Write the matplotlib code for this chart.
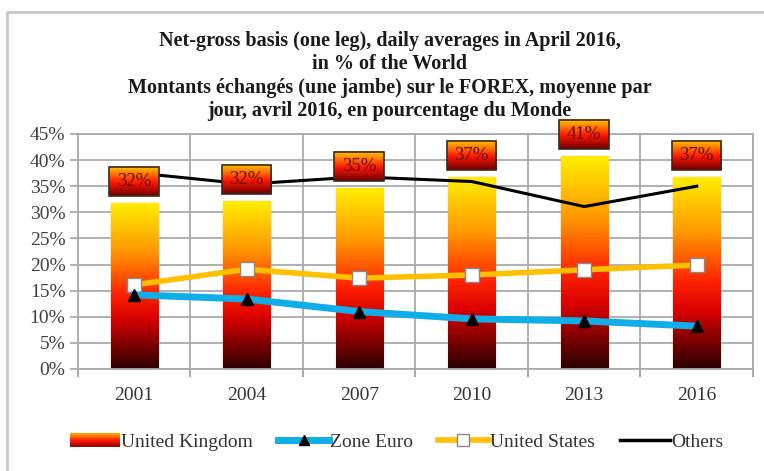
import numpy as np
import matplotlib
matplotlib.use("Agg")
import matplotlib.pyplot as plt
from matplotlib.colors import LinearSegmentedColormap
from matplotlib.patches import Rectangle
from matplotlib.lines import Line2D
from matplotlib.legend_handler import HandlerBase

# data (% of world FX turnover)
years = ["2001", "2004", "2007", "2010", "2013", "2016"]
uk = [31.8, 32.2, 34.7, 36.8, 40.8, 36.8]
uk_labels = ["32%", "32%", "35%", "37%", "41%", "37%"]
euro = [14.2, 13.4, 11.0, 9.6, 9.2, 8.2]
usa = [16.1, 19.1, 17.4, 18.0, 19.0, 19.9]
others = [37.6, 35.4, 36.8, 35.9, 31.1, 35.0]

title = ("Net-gross basis (one leg), daily averages in April 2016,\n"
         "in % of the World\n"
         "Montants échangés (une jambe) sur le FOREX, moyenne par\n"
         "jour, avril 2016, en pourcentage du Monde")

plt.rcParams['font.family'] = ['Liberation Serif', 'DejaVu Serif']

bar_cmap = LinearSegmentedColormap.from_list(
    "ukbar", [(0, "#2a0000"), (0.3, "#d80000"), (0.45, "#ff2200"),
              (0.7, "#ff9500"), (1, "#fff000")])
box_cmap = LinearSegmentedColormap.from_list(
    "ukbox", [(0, "#6a0000"), (0.45, "#ff1500"), (1, "#ffcc00")])
grad = np.linspace(0, 1, 256).reshape(-1, 1)

fig = plt.figure(figsize=(7.64, 4.71), dpi=100)
ax = fig.add_axes([0.102, 0.2166, 0.8836, 0.4989])

# outer frame of the chart
fig.patches.append(Rectangle((7 / 764, -0.1), 1.2, 1 - 12 / 471 + 0.1,
                             transform=fig.transFigure, fill=False,
                             edgecolor="#c8c8c8", linewidth=2, zorder=0))

x = np.arange(len(years))
bar_w = 0.42
bars = ax.bar(x, uk, width=bar_w, facecolor="none", edgecolor="#f0a070",
              linewidth=1, zorder=2)
for b in bars:
    x0, y0 = b.get_x(), b.get_y()
    im = ax.imshow(grad, cmap=bar_cmap, origin="lower", aspect="auto",
                   extent=(x0, x0 + b.get_width(), y0, y0 + b.get_height()),
                   zorder=2)
    im.set_clip_path(b)

# gradient label boxes above the bars
box_w = 0.44
for xi, v, lab in zip(x, uk, uk_labels):
    lo, hi = v + 1.3, v + 6.9
    ax.imshow(grad, cmap=box_cmap, origin="lower", aspect="auto",
              extent=(xi - box_w / 2, xi + box_w / 2, lo, hi),
              zorder=5, clip_on=False)
    ax.add_patch(Rectangle((xi - box_w / 2, lo), box_w, hi - lo, fill=False,
                           edgecolor="#3a2a20", linewidth=1.2, zorder=6,
                           clip_on=False))
    ax.text(xi, (lo + hi) / 2, lab, ha="center", va="center", fontsize=13.5,
            color="#5a1010", zorder=7)

ax.plot(x, others, color="black", linewidth=2.2, zorder=3)
ax.plot(x, usa, color="#ffc000", linewidth=4, marker="s", markersize=10,
        markerfacecolor="white", markeredgecolor="#888888", zorder=4)
ax.plot(x, euro, color="#10aee8", linewidth=5, marker="^", markersize=9,
        markerfacecolor="black", markeredgecolor="black", zorder=4)

ax.set_xlim(-0.5, len(years) - 0.5)
ax.set_ylim(0, 45)
ax.set_yticks(np.arange(0, 46, 5))
ax.set_yticklabels([f"{t}%" for t in range(0, 46, 5)], fontsize=14,
                   color="#404040")
ax.set_xticks(x)
ax.set_xticklabels(years, fontsize=14, color="#333333")
ax.tick_params(axis="x", length=0, pad=13)
ax.tick_params(axis="y", length=6, color="#aaaaaa", width=1.3, pad=3)
ax.set_xticks(np.arange(-0.5, len(years), 1), minor=True)
ax.tick_params(axis="x", which="minor", length=6, color="#999999", width=1.2)

ax.grid(axis="y", color="#aaaaaa", linewidth=1.3, zorder=0)
ax.grid(axis="x", which="minor", color="#aaaaaa", linewidth=1.3, zorder=0)
ax.set_axisbelow(True)
for s in ax.spines.values():
    s.set_color("#aaaaaa")
    s.set_linewidth(1.3)

fig.text(0.51, 1 - 31 / 471, title, ha="center", va="top", fontsize=14.5,
         fontweight="bold", linespacing=1.22, color="#1a1a1a")


class GradientPatchHandler(HandlerBase):
    def create_artists(self, legend, orig_handle, xdescent, ydescent,
                       width, height, fontsize, trans):
        n = 8
        arts = []
        for i in range(n):
            c = box_cmap(0.15 + 0.7 * i / (n - 1))
            arts.append(Rectangle((-xdescent, -ydescent + height * i / n),
                                  width, height / n, facecolor=c,
                                  edgecolor="none", transform=trans))
        return arts


uk_handle = Rectangle((0, 0), 1, 1)
handles = [
    uk_handle,
    Line2D([], [], color="#10aee8", linewidth=5, marker="^", markersize=7,
           markerfacecolor="black", markeredgecolor="black"),
    Line2D([], [], color="#ffc000", linewidth=4, marker="s", markersize=8,
           markerfacecolor="white", markeredgecolor="#888888"),
    Line2D([], [], color="black", linewidth=2.5),
]
labels = ["United Kingdom", "Zone Euro", "United States", "Others"]
fig.legend(handles, labels, loc="center", bbox_to_anchor=(0.519, 1 - 442 / 471),
           ncol=4, frameon=False, fontsize=14, handlelength=2.6,
           handletextpad=0.05, columnspacing=1.3,
           labelcolor="#333333",
           handler_map={uk_handle: GradientPatchHandler()})

fig.savefig("out.png", dpi=100)
